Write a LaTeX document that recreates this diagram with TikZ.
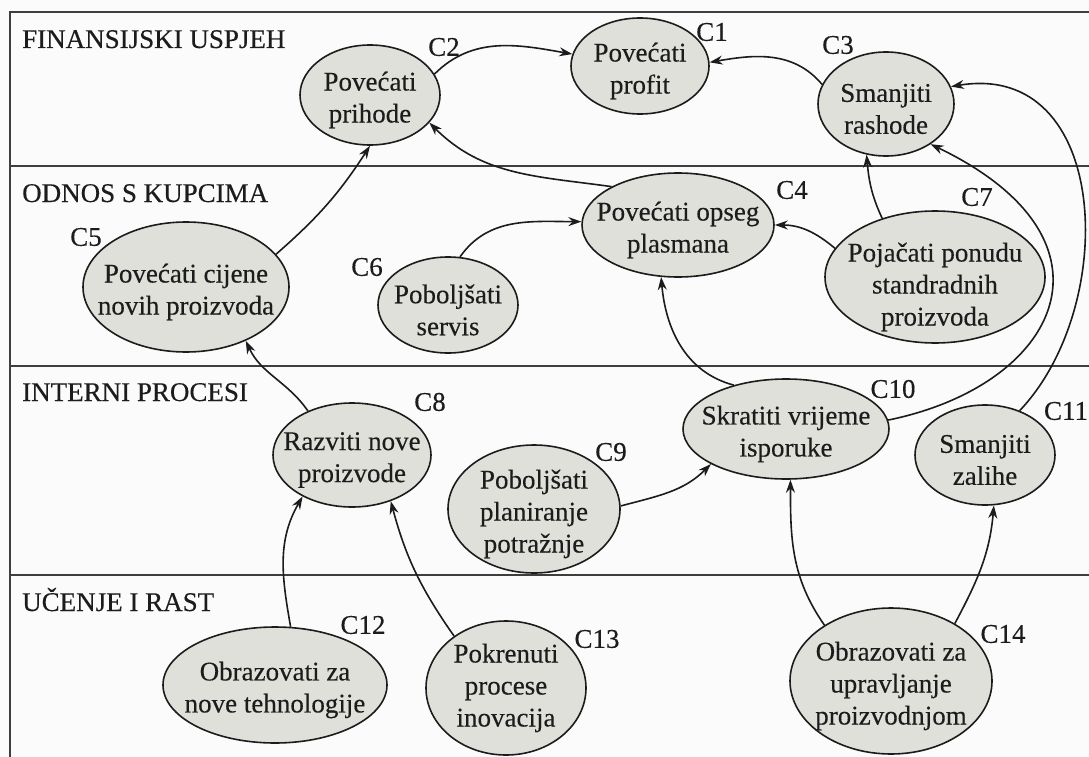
\documentclass[tikz,border=0pt]{standalone}
\usepackage{fontspec}
\setmainfont{Liberation Serif}[FakeBold=0.3]
\usetikzlibrary{shapes.geometric,arrows.meta}
\definecolor{bubblefill}{RGB}{224,224,218}
\definecolor{inkc}{RGB}{28,28,28}
\definecolor{bgc}{RGB}{251,251,251}
\begin{document}
\begin{tikzpicture}[x=1pt,y=-1pt,
  bubble/.style={ellipse, draw=inkc, line width=1.6pt, fill=bubblefill, inner sep=0pt},
  txt/.style={align=center, font=\fontsize{27}{32}\selectfont, text=inkc, inner sep=0pt, yshift=-5pt},
  tag/.style={font=\fontsize{27}{32}\selectfont, text=inkc, inner sep=0pt},
  lane/.style={font=\fontsize{27}{32}\selectfont, text=inkc, anchor=base west, inner sep=0pt},
  frame/.style={draw=inkc!85, line width=2pt},
  conn/.style={draw=inkc, line width=1.6pt, -{Stealth[length=13pt,width=9pt]}},
]
\clip (0,0) rectangle (1089,757);
\fill[bgc] (0,0) rectangle (1089,757);

% frame and lanes
\draw[frame] (10,757) -- (10,12) -- (1095,12);
\draw[frame] (10,166) -- (1095,166);
\draw[frame] (10,366) -- (1095,366);
\draw[frame] (10,575) -- (1095,575);

\node[lane] (l1) at (22,48) {FINANSIJSKI USPJEH};
\node[lane] (l2) at (22,202) {ODNOS S KUPCIMA};
\node[lane] (l3) at (22,401) {INTERNI PROCESI};
\node[lane] (l4) at (22,611) {UČENJE I RAST};

% bubbles
\node[bubble, minimum width=138pt, minimum height=96pt]  (c1)  at (640,66)  {};
\node[bubble, minimum width=140pt, minimum height=100pt] (c2)  at (370,95)  {};
\node[bubble, minimum width=136pt, minimum height=104pt] (c3)  at (886,104) {};
\node[bubble, minimum width=192pt, minimum height=104pt] (c4)  at (678,225) {};
\node[bubble, minimum width=206pt, minimum height=130pt] (c5)  at (186,287) {};
\node[bubble, minimum width=140pt, minimum height=96pt]  (c6)  at (448,305) {};
\node[bubble, minimum width=220pt, minimum height=132pt] (c7)  at (935,277) {};
\node[bubble, minimum width=158pt, minimum height=104pt] (c8)  at (352,455) {};
\node[bubble, minimum width=172pt, minimum height=128pt] (c9)  at (534,509) {};
\node[bubble, minimum width=206pt, minimum height=100pt] (c10) at (786,429) {};
\node[bubble, minimum width=140pt, minimum height=100pt] (c11) at (985,455) {};
\node[bubble, minimum width=224pt, minimum height=116pt] (c12) at (275,685) {};
\node[bubble, minimum width=160pt, minimum height=134pt] (c13) at (506,688) {};
\node[bubble, minimum width=202pt, minimum height=146pt] (c14) at (891,681) {};

% texts
\node[txt] (t1)  at (c1)  {Povećati\\profit};
\node[txt] (t2)  at (c2)  {Povećati\\prihode};
\node[txt] (t3)  at (c3)  {Smanjiti\\rashode};
\node[txt] (t4)  at (c4)  {Povećati opseg\\plasmana};
\node[txt] (t5)  at (c5)  {Povećati cijene\\novih proizvoda};
\node[txt] (t6)  at (c6)  {Poboljšati\\servis};
\node[txt, yshift=-5pt] (t7)  at (c7)  {Pojačati ponudu\\standradnih\\proizvoda};
\node[txt] (t8)  at (c8)  {Razviti nove\\proizvode};
\node[txt] (t9)  at (c9)  {Poboljšati\\planiranje\\potražnje};
\node[txt] (t10) at (c10) {Skratiti vrijeme\\isporuke};
\node[txt] (t11) at (c11) {Smanjiti\\zalihe};
\node[txt] (t12) at (c12) {Obrazovati za\\nove tehnologije};
\node[txt, yshift=5pt] (t13) at (c13) {Pokrenuti\\procese\\inovacija};
\node[txt] (t14) at (c14) {Obrazovati za\\upravljanje\\proizvodnjom};

% tags
\node[tag] (g1)  at (712,32)  {C1};
\node[tag] (g2)  at (444,47)  {C2};
\node[tag] (g3)  at (838,45)  {C3};
\node[tag] (g4)  at (792,190) {C4};
\node[tag] (g5)  at (86,237)  {C5};
\node[tag] (g6)  at (367,267) {C6};
\node[tag] (g7)  at (977,197) {C7};
\node[tag] (g8)  at (430,402) {C8};
\node[tag] (g9)  at (611,452) {C9};
\node[tag] (g10) at (893,389) {C10};
\node[tag] (g11) at (1066,411) {C11};
\node[tag] (g12) at (363,625) {C12};
\node[tag] (g13) at (597,639) {C13};
\node[tag] (g14) at (1003,634) {C14};

% connectors
\draw[conn] (c2.18) to[out=45,in=170] (c1.170);
\draw[conn] (c3.163) to[out=130,in=10] (c1.3);
\draw[conn] (c4.150) to[out=172,in=-45] (c2.-25);
\draw[conn] (c5.20) to[bend right=8] (c2.-90);
\draw[conn] (c6.76) to[out=55,in=180] (c4.178);
\draw[conn] (c7.164) to[out=140,in=0] (c4.east);
\draw[conn] (c7.132) to[out=115,in=-85] (c3.-111);
\draw[conn] (c10.5) .. controls (1060,385) and (1130,240) .. (c3.-42);
\draw[conn] (c11.52) .. controls (1120,305) and (1110,60) .. (c3.15);
\draw[conn] (c10.140) to[out=165,in=-85] (c4.-108);
\draw[conn] (c9.2) to[out=15,in=-135] (c10.205);
\draw[conn] (c8.135) to[out=125,in=-65] (c5.-42);
\draw[conn] (c12.75) to[out=100,in=-120] (c8.220);
\draw[conn] (c13.135) to[out=125,in=-75] (c8.-50);
\draw[conn] (c14.140) to[out=125,in=-90] (c10.-85);
\draw[conn] (c14.42) to[out=62,in=-95] (c11.-80);
\end{tikzpicture}
\end{document}
